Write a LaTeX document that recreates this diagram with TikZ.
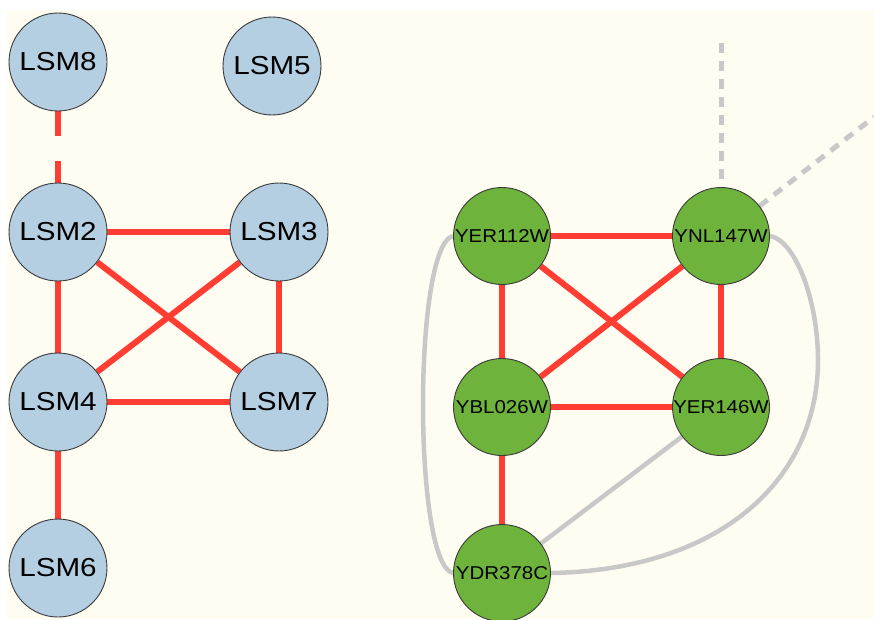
\documentclass[tikz,border=0pt]{standalone}
\usepackage{fontspec}
\usepackage{graphicx}
\setmainfont{Liberation Sans}
\definecolor{cream}{HTML}{FFFDF2}
\definecolor{lsmblue}{HTML}{B4CEE2}
\definecolor{ygreen}{HTML}{6DB33C}
\definecolor{redge}{HTML}{FF3D33}
\definecolor{gedge}{HTML}{C8C8C8}
\definecolor{nborder}{HTML}{3A3A3A}
\pgfdeclarelayer{bglayer}
\pgfdeclarelayer{edgelayer}
\pgfsetlayers{bglayer,edgelayer,main}
\newcommand{\wlbl}[1]{\makebox[0pt]{\scalebox{1.14}[1]{#1}}}
\newcommand{\glbl}[1]{\makebox[0pt]{\scalebox{1.1}[1]{#1}}}
\tikzset{
  lsm/.style={circle, draw=nborder, line width=0.9pt, fill=lsmblue, minimum size=98pt, inner sep=0pt, font=\fontsize{26}{26}\selectfont},
  yst/.style={circle, draw=nborder, line width=0.9pt, fill=ygreen, minimum size=97pt, inner sep=0pt, font=\fontsize{18.6}{18.6}\selectfont},
  redl/.style={draw=redge, line width=6pt},
  grayl/.style={draw=gedge, line width=4.5pt},
  grayd/.style={draw=gedge, line width=5pt, dash pattern=on 10pt off 8pt},
}
\begin{document}
\begin{tikzpicture}[x=1pt,y=-1pt]
\useasboundingbox (0,0) rectangle (874,619);
\begin{pgfonlayer}{bglayer}
\fill[white] (0,0) rectangle (874,619);
\fill[cream] (7,10) rectangle (874,619);
\end{pgfonlayer}
% left network nodes
\node[lsm] (lsm8) at (58,62) {\wlbl{LSM8}};
\node[lsm] (lsm5) at (272,66) {\wlbl{LSM5}};
\node[lsm] (lsm2) at (58,232) {\wlbl{LSM2}};
\node[lsm] (lsm3) at (279,232) {\wlbl{LSM3}};
\node[lsm] (lsm4) at (58,402) {\wlbl{LSM4}};
\node[lsm] (lsm7) at (279,402) {\wlbl{LSM7}};
\node[lsm] (lsm6) at (58,568) {\wlbl{LSM6}};
% right network nodes
\node[yst] (yer112) at (502,236) {\glbl{YER112W}};
\node[yst] (ynl147) at (721,236) {\glbl{YNL147W}};
\node[yst] (ybl026) at (502,407) {\glbl{YBL026W}};
\node[yst] (yer146) at (721,407) {\glbl{YER146W}};
\node[yst] (ydr378) at (502,573) {\glbl{YDR378C}};
\coordinate (topend) at (721,43);
\coordinate (diagend) at (874,117);
\coordinate (rbend) at (818,360);
\begin{pgfonlayer}{edgelayer}
\clip (0,0) rectangle (874,619);
% edges left
\draw[redl, dash pattern=on 25pt off 25pt] (lsm8) -- (lsm2);
\draw[redl] (lsm2) -- (lsm3);
\draw[redl] (lsm2) -- (lsm4);
\draw[redl] (lsm2) -- (lsm7);
\draw[redl] (lsm3) -- (lsm4);
\draw[redl] (lsm3) -- (lsm7);
\draw[redl] (lsm4) -- (lsm7);
\draw[redl] (lsm4) -- (lsm6);
% edges right
\draw[redl] (yer112) -- (ynl147);
\draw[redl] (yer112) -- (ybl026);
\draw[redl] (yer112) -- (yer146);
\draw[redl] (ynl147) -- (ybl026);
\draw[redl] (ynl147) -- (yer146);
\draw[redl] (ybl026) -- (yer146);
\draw[redl] (ybl026) -- (ydr378);
\draw[grayl] (yer146) -- (ydr378);
\draw[grayl] (yer112.west) .. controls (413,245) and (413,565) .. (ydr378.west);
\draw[grayl] (ynl147.east) .. controls (795,240) and (818,300) .. (rbend) .. controls (818,480) and (720,570) .. (ydr378.east);
\draw[grayd] (topend) -- (ynl147);
\draw[grayd] (ynl147) -- (diagend);
\end{pgfonlayer}
\end{tikzpicture}
\end{document}
